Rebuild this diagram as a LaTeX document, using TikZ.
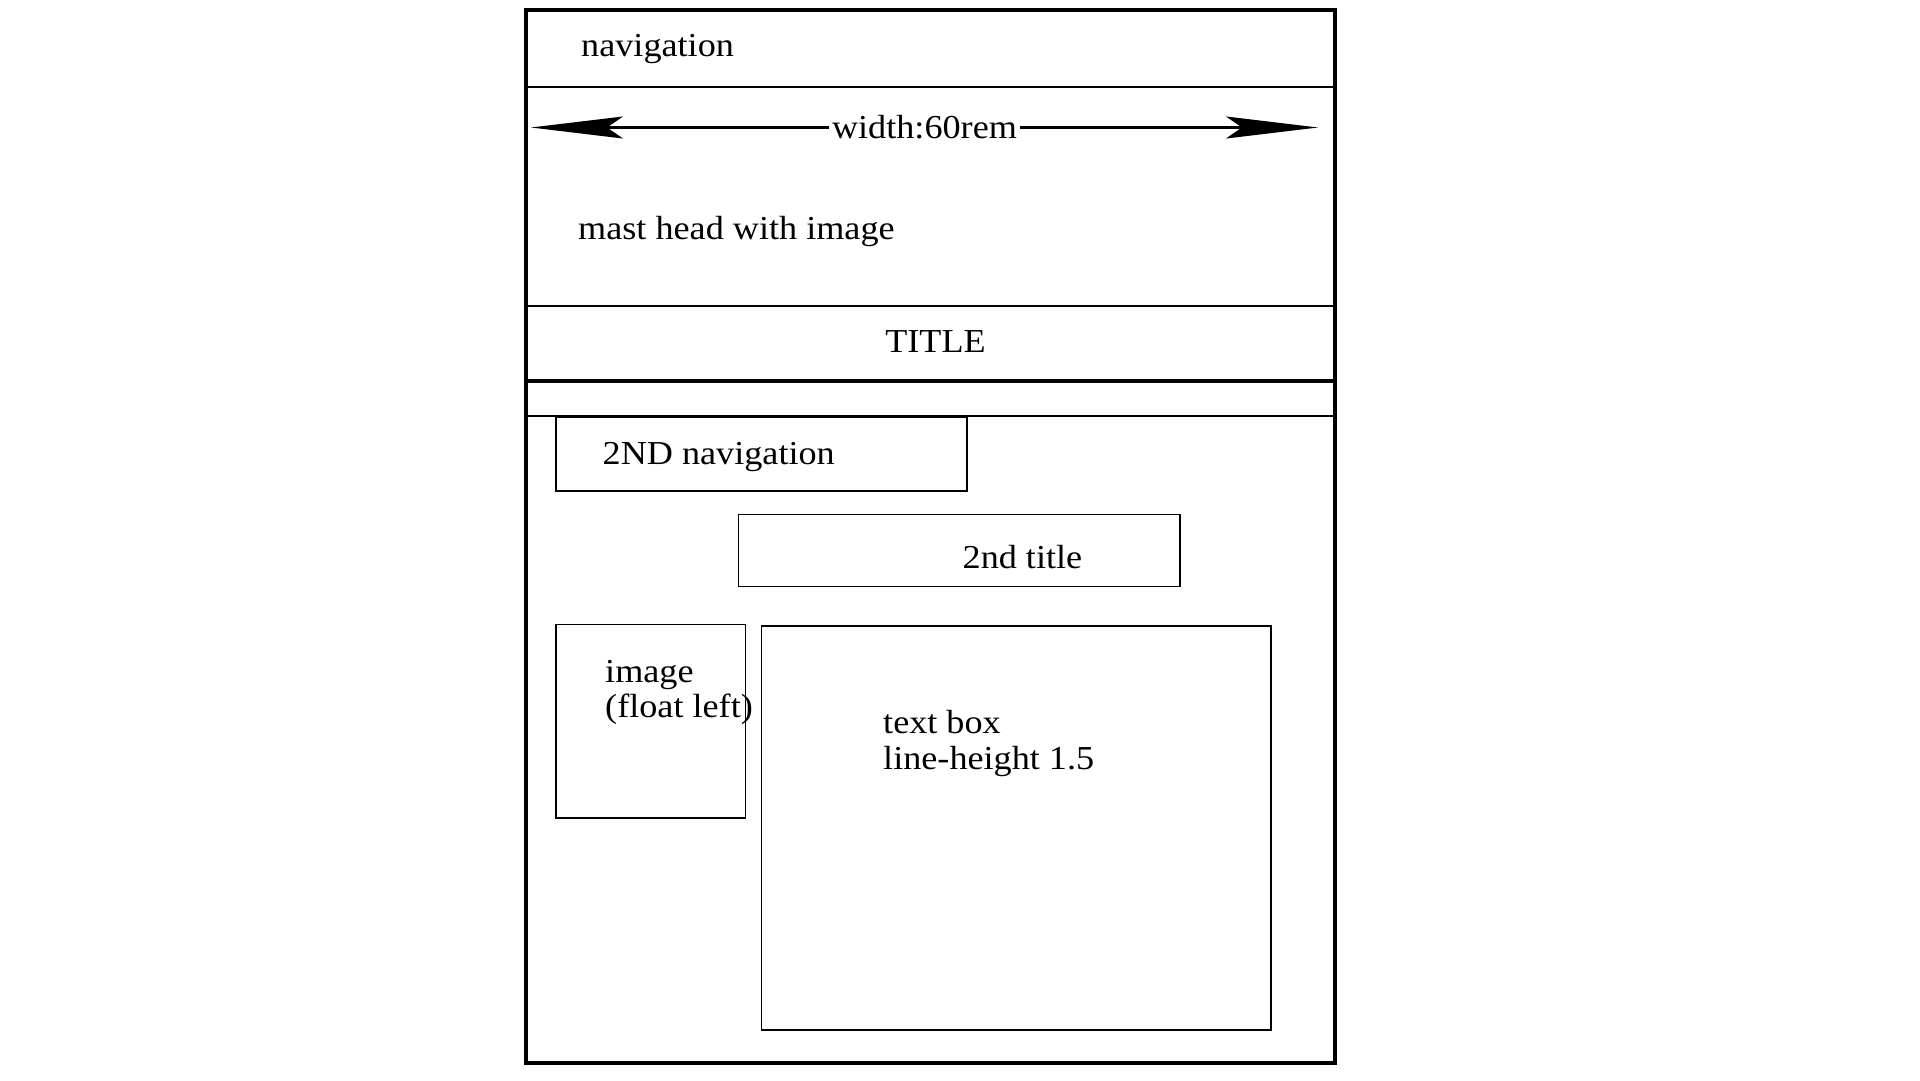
\documentclass[tikz,border=0pt]{standalone}
\usepackage{fontspec}
\setmainfont{Liberation Serif}[FakeStretch=1.08]
\usetikzlibrary{arrows.meta}
\begin{document}
\begin{tikzpicture}[x=1pt,y=-1pt,
  label/.style={inner sep=0pt, font=\fontsize{33.5}{36}\selectfont},
  frame/.style={line width=4pt},
  rule/.style={line width=1.8pt},
  heavyrule/.style={line width=3.7pt},
  panel/.style={line width=1.8pt},
  measure/.style={line width=2.4pt,
    {Stealth[length=92pt,width=22pt,inset=16pt]}-{Stealth[length=92pt,width=22pt,inset=16pt]}}]
  \useasboundingbox (0,0) rectangle (1920,1080);

  % page outline and horizontal bands
  \draw[frame] (525.5,10) rectangle (1334.5,1063);
  \draw[rule] (525.5,87) -- (1334.5,87);
  \draw[rule] (525.5,306) -- (1334.5,306);
  \draw[heavyrule] (525.5,381) -- (1334.5,381);
  \draw[rule] (525.5,416) -- (1334.5,416);

  % band labels
  \node[label, anchor=base west] (nav) at (581,56) {navigation};
  \node[label, anchor=base west] (mast) at (578,239) {mast head with image};
  \node[label, anchor=base] (title) at (935.5,352) {TITLE};

  % width measure
  \coordinate (ml) at (531,127.5);
  \coordinate (mr) at (1318,127.5);
  \draw[measure] (ml) -- node[label, fill=white, inner xsep=3pt, inner ysep=2pt] (width) {width:60rem} (mr);

  % content boxes
  \draw[panel] (556,417.5) rectangle (967,491);
  \node[label, anchor=base west] (subnav) at (602.5,464) {2ND navigation};

  \draw[panel] (738.5,514.5) rectangle (1180,586.5);
  \node[label, anchor=base west] (subtitle) at (962.5,568) {2nd title};

  \draw[panel] (556,624.5) rectangle (745.5,818);
  \node[label, anchor=base west] (img) at (605,682) {image};
  \node[label, anchor=base west] (imgnote) at (605,717.5) {(float left)};

  \draw[panel] (761.5,626) rectangle (1271,1030);
  \node[label, anchor=base west] (txt) at (883,733.5) {text box};
  \node[label, anchor=base west] (txtnote) at (883,769) {line-height 1.5};
\end{tikzpicture}
\end{document}
